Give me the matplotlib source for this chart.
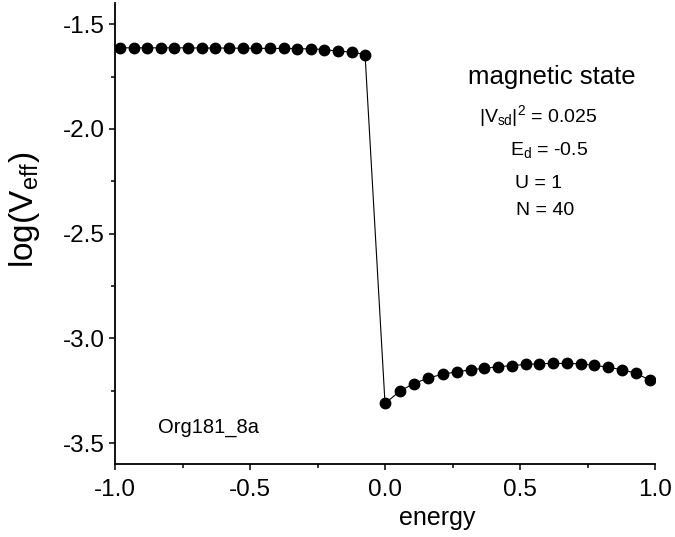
import matplotlib
matplotlib.use("Agg")
import matplotlib.pyplot as plt
from matplotlib.ticker import MultipleLocator, FormatStrFormatter

plt.rcParams["font.family"] = ["Liberation Sans", "DejaVu Sans"]
plt.rcParams["mathtext.fontset"] = "custom"
plt.rcParams["mathtext.rm"] = "Liberation Sans"
plt.rcParams["mathtext.it"] = "Liberation Sans"
plt.rcParams["axes.unicode_minus"] = False

# energy levels below the Fermi level
energy_lo = [-0.981, -0.931, -0.880, -0.830, -0.780, -0.729, -0.679, -0.628, -0.578, -0.527,
             -0.477, -0.427, -0.376, -0.326, -0.275, -0.225, -0.175, -0.124, -0.074]
logv_lo = [-1.613, -1.613, -1.613, -1.613, -1.613, -1.613, -1.614, -1.614, -1.614, -1.615,
           -1.615, -1.616, -1.616, -1.617, -1.618, -1.621, -1.629, -1.633, -1.645]

# energy levels above
energy_hi = [0.000, 0.056, 0.107, 0.159, 0.215, 0.267, 0.319, 0.367, 0.419, 0.470,
             0.522, 0.570, 0.622, 0.674, 0.726, 0.774, 0.826, 0.878, 0.930, 0.981]
logv_hi = [-3.311, -3.251, -3.216, -3.190, -3.171, -3.160, -3.150, -3.143, -3.136, -3.130,
           -3.125, -3.121, -3.120, -3.120, -3.122, -3.129, -3.138, -3.150, -3.167, -3.200]

energy = energy_lo + energy_hi
logv = logv_lo + logv_hi

fig = plt.figure(figsize=(6.75, 5.37), dpi=100)
ax = fig.add_axes([0.1704, 0.136, 0.80, 0.858])

ax.plot(energy, logv, color="black", lw=0.8, marker="o", ms=7.5, mfc="black", mec="black")

ax.set_xlim(-1.0, 1.0)
ax.set_ylim(-3.6, -1.4)
ax.xaxis.set_major_locator(MultipleLocator(0.5))
ax.xaxis.set_minor_locator(MultipleLocator(0.25))
ax.yaxis.set_major_locator(MultipleLocator(0.5))
ax.yaxis.set_minor_locator(MultipleLocator(0.25))
ax.xaxis.set_major_formatter(FormatStrFormatter("%.1f"))
ax.yaxis.set_major_formatter(FormatStrFormatter("%.1f"))

for s in ["top", "right"]:
    ax.spines[s].set_visible(False)
for s in ["left", "bottom"]:
    ax.spines[s].set_linewidth(1.3)
ax.tick_params(which="major", direction="out", length=4.5, width=1.1, labelsize=17.5)
ax.tick_params(axis="x", which="major", pad=6)
ax.tick_params(axis="y", which="major", pad=3)
ax.tick_params(which="minor", direction="out", length=3, width=1.1)

# axis titles (placed off-centre like the original)
ax.set_xlabel("energy", fontsize=18, va="baseline")
ax.xaxis.set_label_coords(0.596, -0.132)
ax.set_ylabel(r"log(V$_{\mathrm{eff}}$)", fontsize=24)
ax.yaxis.set_label_coords(-0.135, 0.551)

kw = dict(transform=ax.transAxes, ha="center", va="baseline")
ax.text(0.809, 0.824, "magnetic state", fontsize=18.5, **kw)
ax.text(0.784, 0.742, r"$|V_{sd}|^{2}$ = 0.025", fontsize=14, **kw)
ax.text(0.804, 0.670, r"$E_{d}$ = -0.5", fontsize=14, **kw)
ax.text(0.784, 0.599, "U = 1", fontsize=14, **kw)
ax.text(0.796, 0.540, "N = 40", fontsize=14, **kw)
ax.text(0.080, 0.067, "Org181_8a", transform=ax.transAxes, ha="left", va="baseline", fontsize=14.5)

fig.savefig("out.png", dpi=100)
